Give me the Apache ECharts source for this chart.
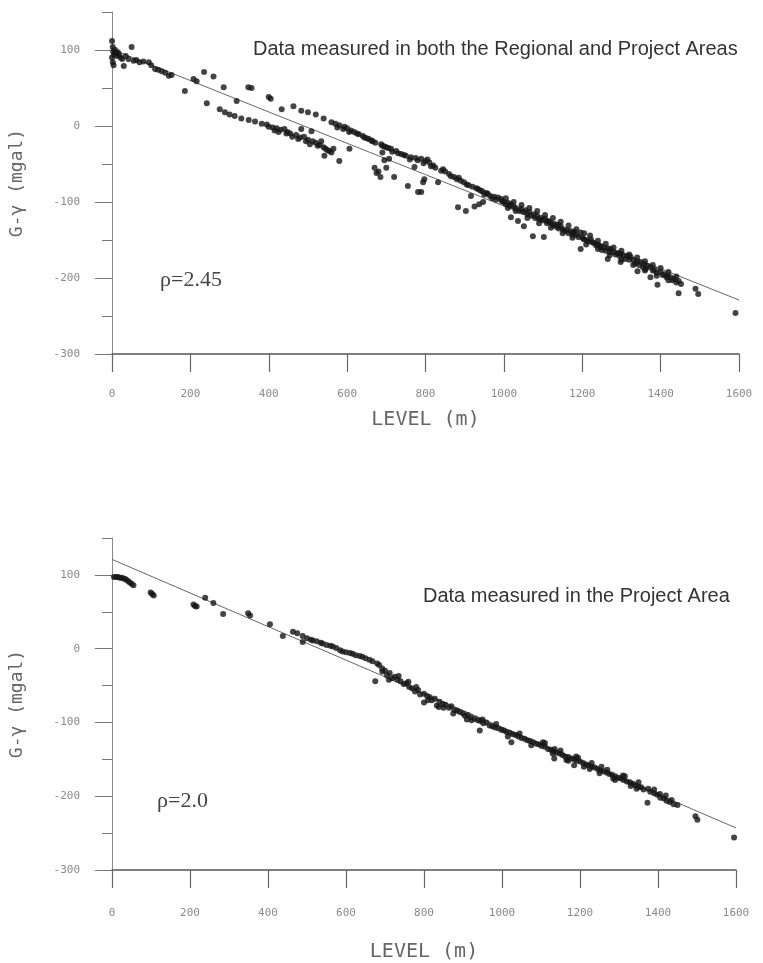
<!DOCTYPE html>
<html>
<head>
<meta charset="utf-8">
<script src="https://cdn.jsdelivr.net/npm/echarts@6/dist/echarts.min.js"></script>
<style>
  html, body { margin: 0; padding: 0; background: #fff; }
  #chart_gravity_level { width: 763px; height: 963px; }
</style>
</head>
<body>
<div id="chart_gravity_level"></div>
<script>
// level (m) vs G-gamma (mgal)
const xTicks = [0, 200, 400, 600, 800, 1000, 1200, 1400, 1600];
const yMajorTicks = [-300, -200, -100, 0, 100];
const yMinorTicks = [-250, -150, -50, 50, 150];

// upper panel: regional + project areas
const regionalPoints = [
  [0,112],[2,104],[3,98],[5,94],[0,90],[2,84],[4,80],[8,100],[10,96],[12,92],[15,97],[18,94],
  [22,90],[26,88],[30,79],[35,92],[42,88],[50,104],[55,86],[62,87],[70,84],[80,85],[94,84],
  [100,80],[110,75],[118,74],[127,72],[136,70],[145,66],[152,67],[186,46],[208,62],[216,59],
  [235,71],[259,65],[242,30],[285,51],[275,22],[288,18],[300,15],[313,13],[318,33],[330,10],
  [349,8],[348,51],[356,50],[365,6],[382,3],[395,2],[400,38],[405,36],[400,-1],[410,-2],
  [415,-6],[420,-3],[425,-8],[433,22],[430,-5],[440,-4],[445,-10],[448,-8],[455,-10],[460,-14],
  [463,26],[470,-12],[475,-17],[480,-15],[483,20],[483,-4],[490,-14],[495,-20],[500,18],
  [500,-18],[505,-24],[509,-7],[512,-20],[520,15],[520,-22],[525,-26],[530,-25],[534,-20],
  [540,10],[540,-28],[542,-39],[545,-30],[550,-32],[555,-33],[560,5],[560,-35],[565,-30],
  [570,3],[575,-2],[580,-46],[580,1],[590,-4],[593,-1],[600,-3],[605,-8],[606,-30],[610,-6],
  [618,-8],[625,-10],[630,-11],[640,-13],[644,-15],[650,-16],[655,-17],[662,-19],[665,-20],
  [670,-55],[672,-22],[675,-62],[680,-60],[685,-67],[687,-24],[690,-26],[690,-35],[695,-27],
  [695,-45],[700,-28],[700,-55],[705,-29],[707,-43],[712,-30],[715,-34],[720,-67],[725,-33],
  [730,-36],[738,-37],[745,-38],[750,-39],[755,-79],[760,-44],[763,-41],[772,-54],[775,-42],
  [780,-45],[781,-87],[789,-43],[789,-87],[794,-74],[795,-49],[797,-70],[800,-46],[805,-44],
  [810,-48],[814,-53],[820,-52],[825,-55],[832,-74],[840,-59],[845,-57],[850,-60],[860,-63],
  [865,-66],[873,-67],[880,-70],[883,-107],[885,-68],[890,-72],[898,-74],[903,-112],[905,-77],
  [910,-78],[916,-92],[920,-80],[925,-106],[930,-82],[934,-83],[937,-103],[940,-85],[945,-86],
  [947,-100],[950,-90],[955,-88],[959,-89],[965,-92],[970,-95],[975,-93],[980,-97],[985,-94],
  [993,-96],[995,-99],[1000,-100],[1005,-103],[1010,-101],[1015,-105],[1018,-103],[1018,-120],
  [1025,-106],[1030,-108],[1036,-125],[1040,-112],[1043,-109],[1050,-113],[1051,-132],
  [1055,-111],[1060,-116],[1065,-113],[1070,-118],[1074,-145],[1077,-116],[1080,-121],
  [1085,-118],[1090,-123],[1095,-121],[1100,-124],[1102,-146],[1105,-122],[1110,-128],
  [1112,-125],[1115,-126],[1120,-127],[1125,-131],[1130,-129],[1135,-133],[1138,-130],
  [1140,-135],[1145,-132],[1150,-136],[1155,-138],[1160,-137],[1165,-141],[1170,-138],
  [1175,-143],[1178,-140],[1180,-139],[1185,-143],[1190,-146],[1196,-140],[1196,-162],
  [1200,-147],[1204,-149],[1210,-150],[1215,-152],[1222,-149],[1225,-153],[1230,-154],
  [1235,-157],[1240,-156],[1245,-159],[1247,-158],[1250,-163],[1255,-160],[1260,-164],
  [1265,-175],[1265,-161],[1270,-166],[1273,-162],[1280,-166],[1285,-169],[1290,-167],
  [1295,-171],[1298,-168],[1298,-179],[1305,-170],[1310,-175],[1315,-171],[1320,-176],
  [1323,-172],[1330,-176],[1335,-181],[1341,-191],[1340,-178],[1345,-183],[1349,-179],
  [1355,-186],[1358,-182],[1362,-188],[1366,-184],[1374,-186],[1374,-199],[1380,-190],
  [1385,-189],[1390,-193],[1392,-209],[1400,-192],[1405,-196],[1410,-195],[1415,-199],
  [1418,-197],[1425,-199],[1430,-203],[1435,-201],[1440,-206],[1446,-204],[1446,-220],
  [1452,-208],[1489,-214],[1496,-221],[1591,-246],
  [1005,-95],[1025,-100],[1045,-104],[1065,-108],[1085,-112],[1105,-117],[1125,-121],
  [1145,-126],[1165,-131],[1185,-136],[1205,-141],[1220,-144],[1240,-151],[1260,-155],
  [1280,-160],[1300,-164],[1320,-169],[1340,-173],[1360,-178],[1380,-183],[1400,-187],
  [1420,-192],[1440,-198],[1010,-108],[1030,-112],[1060,-121],[1090,-128],[1120,-134],
  [1150,-141],[1175,-147],[1210,-156],[1240,-162],[1270,-170],[1300,-176],[1330,-183],
  [1360,-190],[1390,-197],[1420,-203]
];
const regionalFit = [[0, 101], [1600, -229]];

// lower panel: project area only
const projectPoints = [
  [5,97],[10,97],[15,97],[20,96],[25,96],[30,95],[35,94],[40,92],[45,90],[50,88],[55,86],
  [99,76],[103,74],[107,72],[209,60],[213,58],[217,57],[239,69],[260,62],[285,47],[349,48],
  [354,45],[405,33],[438,17],[464,23],[475,21],[489,17],[489,9],[500,14],[510,12],[515,11],
  [525,10],[535,8],[540,7],[550,5],[560,4],[566,3],[575,1],[585,-2],[591,-4],[600,-5],
  [610,-6],[617,-7],[625,-9],[635,-10],[642,-11],[650,-13],[660,-15],[668,-17],[675,-44],
  [680,-20],[685,-22],[693,-31],[693,-27],[700,-30],[705,-36],[710,-42],[712,-33],[718,-40],
  [725,-38],[732,-42],[735,-37],[740,-44],[748,-48],[755,-47],[760,-45],[762,-52],[770,-54],
  [777,-58],[780,-52],[785,-56],[790,-62],[800,-73],[800,-61],[808,-64],[810,-70],[815,-66],
  [820,-70],[828,-68],[833,-77],[838,-79],[840,-72],[848,-75],[850,-80],[855,-76],[864,-80],
  [870,-78],[875,-88],[878,-83],[885,-84],[892,-86],[900,-88],[905,-91],[910,-96],[912,-90],
  [920,-93],[922,-97],[930,-95],[938,-97],[943,-111],[945,-98],[950,-96],[952,-101],
  [960,-100],[968,-104],[975,-105],[982,-107],[985,-102],[990,-108],[998,-110],[1005,-111],
  [1012,-113],[1015,-119],[1020,-114],[1024,-127],[1028,-116],[1035,-117],[1042,-119],
  [1045,-115],[1050,-121],[1058,-122],[1065,-124],[1072,-125],[1075,-131],[1080,-127],
  [1088,-129],[1095,-130],[1102,-132],[1105,-127],[1110,-133],[1118,-136],[1125,-137],
  [1132,-139],[1134,-149],[1135,-136],[1140,-141],[1148,-142],[1155,-144],[1162,-146],
  [1165,-151],[1170,-147],[1178,-149],[1185,-158],[1185,-150],[1192,-152],[1195,-148],
  [1200,-153],[1208,-155],[1215,-157],[1222,-158],[1225,-163],[1230,-160],[1238,-161],
  [1245,-163],[1252,-165],[1255,-160],[1260,-166],[1268,-168],[1275,-170],[1282,-171],
  [1285,-176],[1290,-173],[1298,-175],[1305,-176],[1312,-178],[1315,-173],[1320,-180],
  [1328,-181],[1335,-183],[1342,-185],[1345,-190],[1350,-187],[1357,-188],[1363,-191],
  [1373,-209],[1375,-190],[1380,-194],[1390,-196],[1398,-198],[1405,-197],[1406,-202],
  [1415,-203],[1422,-206],[1430,-208],[1435,-205],[1440,-211],[1450,-212],[1496,-227],
  [1501,-232],[1595,-256],
  [1110,-128],[1150,-138],[1190,-146],[1230,-155],[1270,-164],[1310,-172],[1350,-181],
  [1390,-191],[1420,-199],[1130,-142],[1170,-152],[1210,-160],[1250,-169],[1290,-178],
  [1330,-186]
];
const projectFit = [[0, 121], [1600, -243]];

const tickFont = "DejaVu Sans Mono";
const labelColor = "#8a8a8a";

const makeXAxis = (gridIndex, labelMargin, nameGap) => ({
  type: "value",
  gridIndex: gridIndex,
  min: xTicks[0],
  max: xTicks[xTicks.length - 1],
  interval: 200,
  name: "LEVEL (m)",
  nameLocation: "middle",
  nameGap: nameGap,
  nameTextStyle: { fontFamily: tickFont, fontSize: 20, color: "#666" },
  splitLine: { show: false },
  axisLine: { onZero: false, lineStyle: { color: "#555", width: 1.5 } },
  axisTick: { length: 18, lineStyle: { color: "#666", width: 1.2 } },
  axisLabel: {
    margin: labelMargin,
    fontFamily: tickFont,
    fontSize: 11,
    color: labelColor,
    formatter: (v) => String(v),
  },
});

const makeYAxes = (gridIndex) => [
  {
    type: "value",
    gridIndex: gridIndex,
    min: -300,
    max: 150,
    name: "G-γ (mgal)",
    nameLocation: "middle",
    nameGap: 86,
    nameRotate: 90,
    nameTextStyle: { fontFamily: tickFont, fontSize: 18, color: "#666" },
    splitLine: { show: false },
    axisLine: { lineStyle: { color: "#8a8a8a", width: 1 } },
    axisTick: { length: 17, customValues: yMajorTicks, lineStyle: { color: "#777" } },
    axisLabel: {
      margin: 32,
      customValues: yMajorTicks,
      fontFamily: tickFont,
      fontSize: 11,
      color: labelColor,
    },
  },
  {
    type: "value",
    gridIndex: gridIndex,
    min: -300,
    max: 150,
    position: "left",
    splitLine: { show: false },
    axisLine: { show: false },
    axisTick: { length: 10, customValues: yMinorTicks, lineStyle: { color: "#777" } },
    axisLabel: { show: false },
  },
];

const chart = echarts.init(document.getElementById("chart_gravity_level"));

const option = {
  backgroundColor: "#fff",
  animation: false,
  grid: [
    { left: 110, right: 24, top: 12, bottom: 609 },
    { left: 108, right: 27, top: 538, bottom: 87 },
  ],
  xAxis: [makeXAxis(0, 35, 56), makeXAxis(1, 38, 72)],
  yAxis: [...makeYAxes(0), ...makeYAxes(1)],
  graphic: [
    {
      type: "text",
      left: 253,
      top: 39,
      style: {
        text: "Data measured in both the Regional and Project Areas",
        font: "20px 'Liberation Sans'",
        fill: "#333",
      },
    },
    {
      type: "text",
      left: 423,
      top: 586,
      style: {
        text: "Data measured in the Project Area",
        font: "20px 'Liberation Sans'",
        fill: "#333",
      },
    },
    {
      type: "text",
      left: 160,
      top: 269,
      style: { text: "ρ=2.45", font: "22px 'Liberation Serif'", fill: "#444" },
    },
    {
      type: "text",
      left: 157,
      top: 790,
      style: { text: "ρ=2.0", font: "22px 'Liberation Serif'", fill: "#444" },
    },
  ],
  series: [
    {
      type: "line",
      xAxisIndex: 0,
      yAxisIndex: 0,
      data: regionalFit,
      symbol: "none",
      lineStyle: { color: "#666", width: 1 },
      z: 1,
    },
    {
      type: "scatter",
      xAxisIndex: 0,
      yAxisIndex: 0,
      data: regionalPoints,
      symbolSize: 6,
      itemStyle: { color: "#151515" },
      z: 2,
    },
    {
      type: "line",
      xAxisIndex: 1,
      yAxisIndex: 2,
      data: projectFit,
      symbol: "none",
      lineStyle: { color: "#666", width: 1 },
      z: 1,
    },
    {
      type: "scatter",
      xAxisIndex: 1,
      yAxisIndex: 2,
      data: projectPoints,
      symbolSize: 6,
      itemStyle: { color: "#151515" },
      z: 2,
    },
  ],
};
chart.setOption(option);
</script>
</body>
</html>
